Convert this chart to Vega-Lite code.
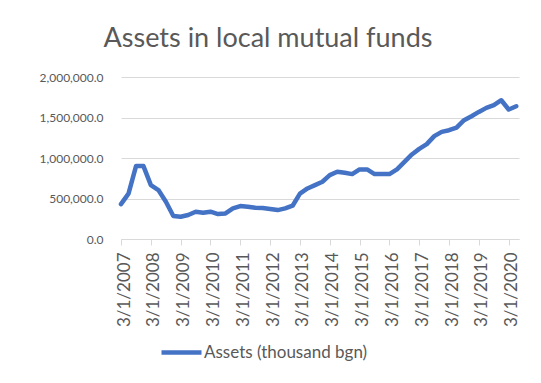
{
  "$schema": "https://vega.github.io/schema/vega-lite/v6.json",
  "autosize": {"type": "none"},
  "width": 398,
  "height": 162,
  "padding": {"left": 121, "top": 77, "right": 22, "bottom": 144},
  "background": "white",
  "title": {
    "text": "Assets in local mutual funds",
    "font": "Lato",
    "fontSize": 27,
    "fontWeight": "normal",
    "color": "#595959",
    "anchor": "middle",
    "frame": "group",
    "dx": -52,
    "baseline": "alphabetic",
    "offset": -3
  },
  "config": {
    "view": {"stroke": null},
    "font": "Lato"
  },
  "data": {
    "values": [
      {"date": "2007-03-01", "assets": 430000},
      {"date": "2007-06-01", "assets": 560000},
      {"date": "2007-09-01", "assets": 900000},
      {"date": "2007-12-01", "assets": 900000},
      {"date": "2008-03-01", "assets": 665000},
      {"date": "2008-06-01", "assets": 604000},
      {"date": "2008-09-01", "assets": 460000},
      {"date": "2008-12-01", "assets": 283000},
      {"date": "2009-03-01", "assets": 275000},
      {"date": "2009-06-01", "assets": 296000},
      {"date": "2009-09-01", "assets": 337000},
      {"date": "2009-12-01", "assets": 325000},
      {"date": "2010-03-01", "assets": 337000},
      {"date": "2010-06-01", "assets": 308000},
      {"date": "2010-09-01", "assets": 316000},
      {"date": "2010-12-01", "assets": 378000},
      {"date": "2011-03-01", "assets": 407000},
      {"date": "2011-06-01", "assets": 398000},
      {"date": "2011-09-01", "assets": 386000},
      {"date": "2011-12-01", "assets": 382000},
      {"date": "2012-03-01", "assets": 370000},
      {"date": "2012-06-01", "assets": 357000},
      {"date": "2012-09-01", "assets": 378000},
      {"date": "2012-12-01", "assets": 411000},
      {"date": "2013-03-01", "assets": 560000},
      {"date": "2013-06-01", "assets": 624000},
      {"date": "2013-09-01", "assets": 665000},
      {"date": "2013-12-01", "assets": 707000},
      {"date": "2014-03-01", "assets": 789000},
      {"date": "2014-06-01", "assets": 830000},
      {"date": "2014-09-01", "assets": 818000},
      {"date": "2014-12-01", "assets": 801000},
      {"date": "2015-03-01", "assets": 859000},
      {"date": "2015-06-01", "assets": 859000},
      {"date": "2015-09-01", "assets": 801000},
      {"date": "2015-12-01", "assets": 801000},
      {"date": "2016-03-01", "assets": 801000},
      {"date": "2016-06-01", "assets": 859000},
      {"date": "2016-09-01", "assets": 953000},
      {"date": "2016-12-01", "assets": 1044000},
      {"date": "2017-03-01", "assets": 1113000},
      {"date": "2017-06-01", "assets": 1171000},
      {"date": "2017-09-01", "assets": 1270000},
      {"date": "2017-12-01", "assets": 1323000},
      {"date": "2018-03-01", "assets": 1343000},
      {"date": "2018-06-01", "assets": 1376000},
      {"date": "2018-09-01", "assets": 1467000},
      {"date": "2018-12-01", "assets": 1516000},
      {"date": "2019-03-01", "assets": 1569000},
      {"date": "2019-06-01", "assets": 1619000},
      {"date": "2019-09-01", "assets": 1652000},
      {"date": "2019-12-01", "assets": 1713000},
      {"date": "2020-03-01", "assets": 1598000},
      {"date": "2020-06-01", "assets": 1639000}
    ]
  },
  "mark": {"type": "line", "strokeWidth": 4.5, "strokeJoin": "round", "strokeCap": "round"},
  "encoding": {
    "x": {
      "field": "date",
      "type": "temporal",
      "title": null,
      "scale": {"type": "utc", "domain": ["2007-03-01", "2020-07-05"]},
      "axis": {
        "values": [
          {"year": 2007, "month": 3, "date": 1, "utc": true},
          {"year": 2008, "month": 3, "date": 1, "utc": true},
          {"year": 2009, "month": 3, "date": 1, "utc": true},
          {"year": 2010, "month": 3, "date": 1, "utc": true},
          {"year": 2011, "month": 3, "date": 1, "utc": true},
          {"year": 2012, "month": 3, "date": 1, "utc": true},
          {"year": 2013, "month": 3, "date": 1, "utc": true},
          {"year": 2014, "month": 3, "date": 1, "utc": true},
          {"year": 2015, "month": 3, "date": 1, "utc": true},
          {"year": 2016, "month": 3, "date": 1, "utc": true},
          {"year": 2017, "month": 3, "date": 1, "utc": true},
          {"year": 2018, "month": 3, "date": 1, "utc": true},
          {"year": 2019, "month": 3, "date": 1, "utc": true},
          {"year": 2020, "month": 3, "date": 1, "utc": true}
        ],
        "labelExpr": "utcFormat(datum.value, '%-m/%-d/%Y')",
        "labelAngle": -90,
        "labelAlign": "right",
        "labelBaseline": "middle",
        "labelFont": "Lato",
        "labelFontSize": 17,
        "labelColor": "#595959",
        "labelPadding": 7,
        "labelOffset": 3,
        "labelOverlap": false,
        "labelFlush": false,
        "grid": false,
        "domainColor": "#d9d9d9",
        "domainWidth": 1,
        "tickColor": "#d9d9d9",
        "tickSize": 6
      }
    },
    "y": {
      "field": "assets",
      "type": "quantitative",
      "title": null,
      "scale": {"domain": [0, 2000000], "nice": false},
      "axis": {
        "values": [0, 500000, 1000000, 1500000, 2000000],
        "format": ",.1f",
        "labelFont": "Lato",
        "labelFontSize": 12,
        "labelColor": "#595959",
        "labelPadding": 18,
        "domain": false,
        "ticks": false,
        "gridColor": "#d9d9d9",
        "gridWidth": 1.2
      }
    },
    "color": {
      "datum": "Assets (thousand bgn)",
      "type": "nominal",
      "scale": {"range": ["#4472C4"]},
      "legend": {
        "title": null,
        "orient": "none",
        "legendX": 38,
        "legendY": 253,
        "symbolType": "stroke",
        "symbolSize": 1600,
        "symbolStrokeWidth": 4.5,
        "labelFont": "Lato",
        "labelFontSize": 17,
        "labelColor": "#595959",
        "labelOffset": 0,
        "labelLimit": 0
      }
    }
  }
}
